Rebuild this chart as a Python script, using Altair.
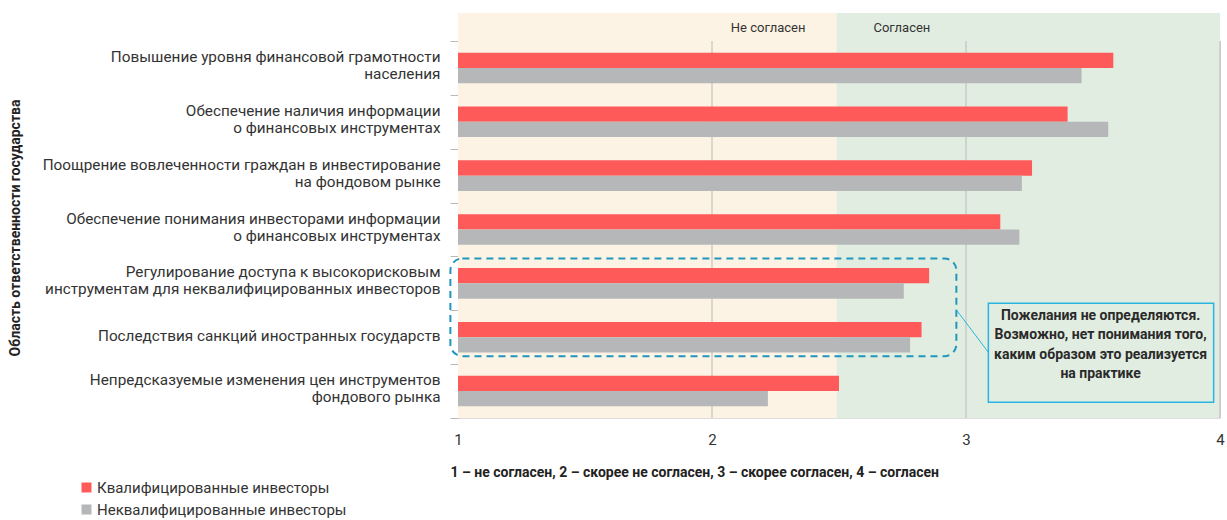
import altair as alt
import pandas as pd

# --- data -------------------------------------------------------------------
categories = [
    "Повышение уровня финансовой грамотности\nнаселения",
    "Обеспечение наличия информации\nо финансовых инструментах",
    "Поощрение вовлеченности граждан в инвестирование\nна фондовом рынке",
    "Обеспечение понимания инвесторами информации\nо финансовых инструментах",
    "Регулирование доступа к высокорисковым\nинструментам для неквалифицированных инвесторов",
    "Последствия санкций иностранных государств",
    "Непредсказуемые изменения цен инструментов\nфондового рынка",
]
groups = ["Квалифицированные инвесторы", "Неквалифицированные инвесторы"]
qualified = [3.58, 3.40, 3.26, 3.135, 2.855, 2.825, 2.50]
unqualified = [3.455, 3.56, 3.22, 3.21, 2.755, 2.78, 2.22]

zone_names = ["Не согласен", "Согласен"]
zone_bounds = [1, 2.49, 4]
tick_values = [1, 2, 3, 4]
grid_values = [2, 3, 4]

x_title = "1 – не согласен, 2 – скорее не согласен, 3 – скорее согласен, 4 – согласен"
y_title = "Область ответственности государства"
note_lines = [
    "Пожелания не определяются.",
    "Возможно, нет понимания того,",
    "каким образом это реализуется",
    "на практике",
]
# highlighted group spans rows 5-6; note box sits to the right of it
group_box_x = [0.97, 2.962]
note_box_x = [3.088, 3.975]
note_text_x = 3.53

# --- layout / style ---------------------------------------------------------
W, H = 762, 377
STEP = H / len(categories)
FONT = "Roboto"
TEXT = "#333333"
RED, GRAY = "#ff5a5a", "#b6b7b9"
BEIGE, GREEN = "#fdf3e4", "#e2ede1"
LINE = "#b9b9b9"
TEAL, CYAN = "#1f97bd", "#2ab4e2"

bar_df = pd.DataFrame(
    [{"category": c, "group": groups[0], "value": v} for c, v in zip(categories, qualified)]
    + [{"category": c, "group": groups[1], "value": v} for c, v in zip(categories, unqualified)]
)
zone_df = pd.DataFrame(
    {"zone": zone_names, "start": zone_bounds[:-1], "end": zone_bounds[1:]}
)
grid_df = pd.DataFrame({"tick": grid_values})

xscale = alt.Scale(domain=[zone_bounds[0], zone_bounds[-1]], nice=False, zero=False)
xaxis = alt.Axis(
    values=tick_values,
    format="d",
    grid=False,
    domain=False,
    ticks=False,
    labelFlush=False,
    labelFontSize=15,
    labelColor=TEXT,
    labelFont=FONT,
    labelPadding=14,
    title=x_title,
    titleFont=FONT,
    titleFontSize=14,
    titleFontWeight="bold",
    titleColor="#222222",
    titleAnchor="start",
    titleAlign="left",
    titleBaseline="middle",
    titleX=-8,
    titleY=54,
)

background = alt.Chart(zone_df).mark_rect().encode(
    x=alt.X("start:Q", scale=xscale, axis=xaxis),
    x2="end:Q",
    y=alt.value(-28),
    y2=alt.value(H),
    color=alt.Color(
        "zone:N",
        scale=alt.Scale(domain=zone_names, range=[BEIGE, GREEN]),
        legend=None,
    ),
)

gridlines = alt.Chart(grid_df).mark_rule(color=LINE, strokeWidth=1).encode(
    x=alt.X("tick:Q", scale=xscale, axis=xaxis),
    y=alt.value(0),
    y2=alt.value(H),
)

header_left = alt.Chart().mark_text(
    align="right", baseline="middle", dx=-31, font=FONT, fontSize=13, color=TEXT
).encode(x=alt.datum(zone_bounds[1]), y=alt.value(-13), text=alt.value(zone_names[0]))

header_right = alt.Chart().mark_text(
    align="left", baseline="middle", dx=37, font=FONT, fontSize=13, color=TEXT
).encode(x=alt.datum(zone_bounds[1]), y=alt.value(-13), text=alt.value(zone_names[1]))

bars = alt.Chart(bar_df).mark_bar().encode(
    x=alt.X("value:Q", scale=xscale, axis=xaxis),
    x2=alt.datum(zone_bounds[0]),
    y=alt.Y(
        "category:N",
        sort=categories,
        scale=alt.Scale(paddingInner=0, paddingOuter=0),
        axis=alt.Axis(
            labelExpr="split(datum.label, '\\n')",
            labelFont=FONT,
            labelFontSize=15.3,
            labelColor=TEXT,
            labelLimit=0,
            labelLineHeight=17,
            labelPadding=10,
            labelOffset={
                "condition": {"test": "indexof(datum.label, '\\n') >= 0", "value": -11.5},
                "value": -2,
            },
            tickBand="extent",
            tickSize=8,
            tickColor=LINE,
            domainColor=LINE,
            grid=False,
            title=y_title,
            titleFont=FONT,
            titleFontSize=14,
            titleFontWeight="bold",
            titleColor="#222222",
            titleAngle=-90,
            titleAlign="center",
            titleBaseline="middle",
            titleX=-443,
            titleY=H / 2 - 2,
        ),
    ),
    yOffset=alt.YOffset(
        "group:N", sort=groups, scale=alt.Scale(paddingInner=0, paddingOuter=0.76)
    ),
    color=alt.Color(
        "group:N",
        sort=groups,
        scale=alt.Scale(domain=groups, range=[RED, GRAY]),
        legend=alt.Legend(
            title=None,
            orient="none",
            legendX=-379,
            legendY=439,
            symbolType="square",
            symbolSize=100,
            symbolStrokeWidth=0,
            labelFont=FONT,
            labelFontSize=15,
            labelColor=TEXT,
            labelLimit=0,
            labelOffset=3,
            rowPadding=6,
            padding=0,
        ),
    ),
)

group_box = alt.Chart().mark_rect(
    fillOpacity=0, stroke=TEAL, strokeWidth=2, strokeDash=[7, 5], cornerRadius=12
).encode(
    x=alt.datum(group_box_x[0]),
    x2=alt.datum(group_box_x[1]),
    y=alt.value(4 * STEP + 2),
    y2=alt.value(6 * STEP - 8),
)

connector = alt.Chart().mark_rule(color=CYAN, strokeWidth=1).encode(
    x=alt.datum(group_box_x[1]),
    x2=alt.datum(note_box_x[0]),
    y=alt.value(5 * STEP - 0.5),
    y2=alt.value(5 * STEP + 42),
)

note_box = alt.Chart().mark_rect(
    fillOpacity=0, stroke=CYAN, strokeWidth=1.5
).encode(
    x=alt.datum(note_box_x[0]),
    x2=alt.datum(note_box_x[1]),
    y=alt.value(5 * STEP - 7),
    y2=alt.value(6 * STEP + 38),
)

note_text = alt.Chart().mark_text(
    align="center",
    baseline="middle",
    font=FONT,
    fontSize=14,
    fontWeight="bold",
    color="#2a2a2a",
    lineHeight=19.5,
).encode(
    x=alt.datum(note_text_x),
    y=alt.value(5 * STEP + 5.5),
    text=alt.value(note_lines),
)

chart = (
    alt.layer(
        background,
        gridlines,
        header_left,
        header_right,
        bars,
        group_box,
        connector,
        note_box,
        note_text,
    )
    .resolve_scale(color="independent")
    .properties(
        width=W,
        height=H,
        autosize=alt.AutoSizeParams(type="none"),
        padding={"left": 458, "top": 41, "right": 7, "bottom": 102},
    )
    .configure_view(stroke=None)
    .configure(background="white")
)

chart.save("out.html", embed_options={"renderer": "svg", "actions": False})
